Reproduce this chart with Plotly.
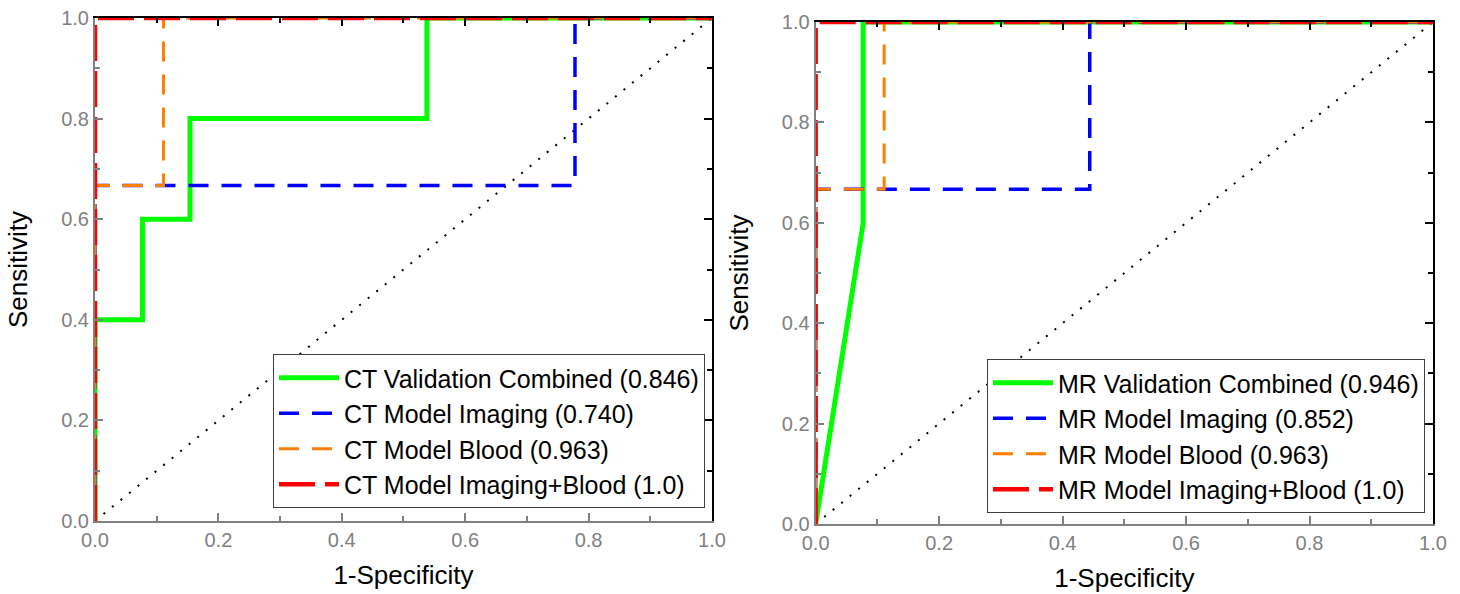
import plotly.graph_objects as go

# ---- data ----
ct_comb_x = [0, 0, 0.077, 0.077, 0.154, 0.154, 0.538, 0.538, 1.0]
ct_comb_y = [0, 0.4, 0.4, 0.6, 0.6, 0.8, 0.8, 1.0, 1.0]
ct_img_x = [0, 0, 0.778, 0.778, 1.0]
ct_img_y = [0, 0.667, 0.667, 1.0, 1.0]
ct_blood_x = [0, 0, 0.111, 0.111, 1.0]
ct_blood_y = [0, 0.667, 0.667, 1.0, 1.0]
ct_both_x = [0, 0, 1.0]
ct_both_y = [0, 1.0, 1.0]

mr_comb_x = [0, 0.077, 0.077, 1.0]
mr_comb_y = [0, 0.6, 1.0, 1.0]
mr_img_x = [0, 0, 0.444, 0.444, 1.0]
mr_img_y = [0, 0.667, 0.667, 1.0, 1.0]
mr_blood_x = [0, 0, 0.111, 0.111, 1.0]
mr_blood_y = [0, 0.667, 0.667, 1.0, 1.0]
mr_both_x = [0, 0, 1.0]
mr_both_y = [0, 1.0, 1.0]

diag = [0, 1]

ct_names = ["CT Validation Combined (0.846)", "CT Model Imaging (0.740)",
            "CT Model Blood (0.963)", "CT Model Imaging+Blood (1.0)"]
mr_names = ["MR Validation Combined (0.946)", "MR Model Imaging (0.852)",
            "MR Model Blood (0.963)", "MR Model Imaging+Blood (1.0)"]

tick_vals = [0, 0.2, 0.4, 0.6, 0.8, 1.0]
tick_text = ["0.0", "0.2", "0.4", "0.6", "0.8", "1.0"]

GREEN = "#00ff00"
BLUE = "#0000ff"
ORANGE = "#ff8000"
RED = "#ff0000"
styles = [
    dict(color=GREEN, width=5, dash="solid"),
    dict(color=BLUE, width=3.5, dash="20px,13px"),
    dict(color=ORANGE, width=3, dash="20px,13px"),
    dict(color=RED, width=4.5, dash="36px,10px"),
]

fig = go.Figure()

def add_panel(xs, ys, names, xa, ya, legend):
    fig.add_trace(go.Scatter(x=diag, y=diag, mode="lines", xaxis=xa, yaxis=ya,
                             line=dict(color="black", width=2, dash="2px,9px"),
                             showlegend=False, hoverinfo="skip"))
    for x, y, n, s in zip(xs, ys, names, styles):
        fig.add_trace(go.Scatter(x=x, y=y, mode="lines", name=n, xaxis=xa, yaxis=ya,
                                 line=s, legend=legend))

add_panel([ct_comb_x, ct_img_x, ct_blood_x, ct_both_x],
          [ct_comb_y, ct_img_y, ct_blood_y, ct_both_y], ct_names, "x", "y", "legend")
add_panel([mr_comb_x, mr_img_x, mr_blood_x, mr_both_x],
          [mr_comb_y, mr_img_y, mr_blood_y, mr_both_y], mr_names, "x2", "y2", "legend2")

# invisible traces for mirror axes
for xa, ya in [("x3", "y3"), ("x4", "y4")]:
    fig.add_trace(go.Scatter(x=[], y=[], xaxis=xa, yaxis=ya, showlegend=False, hoverinfo="skip"))

GREY = "#808080"
FONT = "Arial, Liberation Sans, sans-serif"
tickfont = dict(family=FONT, size=20, color=GREY)
titlefont = dict(family=FONT, size=26, color="black")

def main_axis(domain, anchor, title, standoff):
    return dict(domain=domain, anchor=anchor, range=[0, 1], tickmode="array",
                tickvals=tick_vals, ticktext=tick_text,
                ticks="inside", ticklen=8, tickwidth=2, tickcolor=GREY,
                minor=dict(dtick=0.1, tick0=0, ticks="inside", ticklen=5, tickwidth=2, tickcolor=GREY),
                showline=True, linecolor=GREY, linewidth=2, showgrid=False, zeroline=False,
                tickfont=tickfont, title=dict(text=title, font=titlefont, standoff=standoff),
                automargin=False, fixedrange=True)

def mirror_axis(overlay, anchor, side, domain):
    return dict(overlaying=overlay, anchor=anchor, side=side, domain=domain, range=[0, 1],
                tickmode="array", tickvals=tick_vals,
                ticks="inside", ticklen=8, tickwidth=2, tickcolor="black",
                minor=dict(dtick=0.1, tick0=0, ticks="inside", ticklen=5, tickwidth=2, tickcolor="black"),
                showline=True, linecolor="black", linewidth=2, showgrid=False, zeroline=False,
                showticklabels=False, automargin=False, fixedrange=True)

xd1 = [0, 0.4611]
xd2 = [0.5386, 1.0]
yd1 = [0.0059, 1.0]
yd2 = [0, 0.992]

legfont = dict(family=FONT, size=25, color="black")

fig.update_layout(
    width=1460, height=594,
    margin=dict(l=95, r=27, t=18, b=70),
    paper_bgcolor="white", plot_bgcolor="white",
    xaxis=main_axis(xd1, "y", "1-Specificity", 16),
    yaxis=main_axis(yd1, "x", "Sensitivity", 26),
    xaxis2=main_axis(xd2, "y2", "1-Specificity", 16),
    yaxis2=main_axis(yd2, "x2", "Sensitivity", 26),
    xaxis3=mirror_axis("x", "y", "top", xd1),
    yaxis3=mirror_axis("y", "x", "right", yd1),
    xaxis4=mirror_axis("x2", "y2", "top", xd2),
    yaxis4=mirror_axis("y2", "x2", "right", yd2),
    legend=dict(x=0.4559, y=0.0316, xanchor="right", yanchor="bottom", font=legfont,
                bgcolor="white", bordercolor="#404040", borderwidth=1, tracegroupgap=0,
                itemwidth=60),
    legend2=dict(x=0.994, y=0.0217, xanchor="right", yanchor="bottom", font=legfont,
                 bgcolor="white", bordercolor="#404040", borderwidth=1, tracegroupgap=0,
                 itemwidth=60),
    showlegend=True,
)

fig.write_html("out.html", config={"displayModeBar": False},
               post_script="document.body.style.margin='0px';")
